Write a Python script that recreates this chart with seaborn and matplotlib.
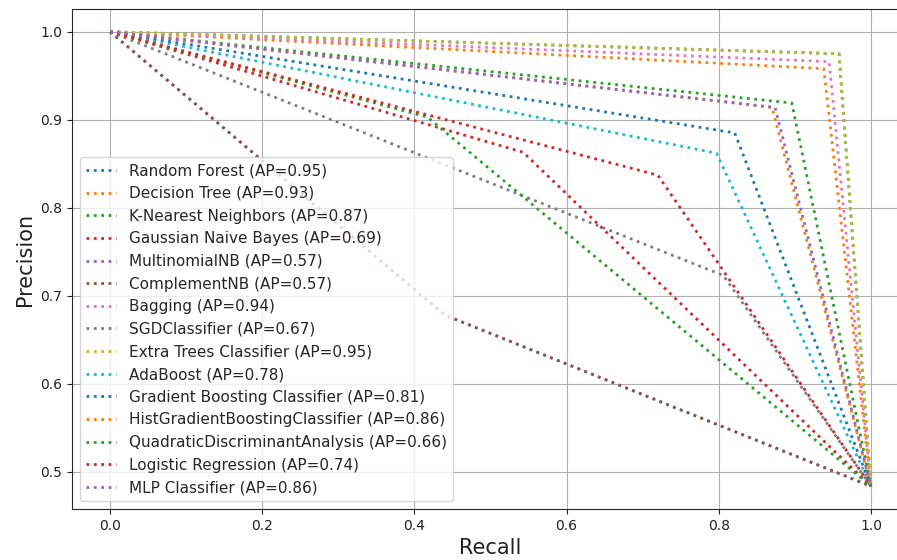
import matplotlib
matplotlib.use("Agg")
import matplotlib.pyplot as plt
import seaborn as sns
import pandas as pd

models = ["Random Forest", "Decision Tree", "K-Nearest Neighbors", "Gaussian Naive Bayes",
          "MultinomialNB", "ComplementNB", "Bagging", "SGDClassifier",
          "Extra Trees Classifier", "AdaBoost", "Gradient Boosting Classifier",
          "HistGradientBoostingClassifier", "QuadraticDiscriminantAnalysis",
          "Logistic Regression", "MLP Classifier"]
ap_scores = [0.95, 0.93, 0.87, 0.69, 0.57, 0.57, 0.94, 0.67, 0.95, 0.78, 0.81, 0.86, 0.66, 0.74, 0.86]
mid_recall = [0.958, 0.938, 0.896, 0.543, 0.440, 0.440, 0.945, 0.806, 0.958, 0.797, 0.821, 0.870, 0.417, 0.720, 0.874]
mid_precision = [0.975, 0.958, 0.919, 0.863, 0.678, 0.678, 0.966, 0.723, 0.975, 0.862, 0.885, 0.914, 0.903, 0.837, 0.914]
start_point = (0.0, 1.0)
end_point = (1.0, 0.4835)

sns.set_style("ticks")
plt.rcParams["font.family"] = ["DejaVu Sans"]

fig = plt.figure(figsize=(8.97, 5.6), dpi=100)
ax = fig.add_axes([72 / 897, 51 / 560, 837 / 897, 500 / 560])

palette = sns.color_palette("tab10", 10)
for i, name in enumerate(models):
    df = pd.DataFrame({
        "recall": [start_point[0], mid_recall[i], end_point[0]],
        "precision": [start_point[1], mid_precision[i], end_point[1]],
    })
    sns.lineplot(data=df, x="recall", y="precision", sort=False, estimator=None,
                 color=palette[i % 10], linestyle=":", linewidth=2,
                 label=f"{name} (AP={ap_scores[i]:.2f})", ax=ax)

ax.grid(True, color="#b0b0b0", linewidth=0.8)
ax.set_xlabel("Recall", fontsize=15, color="#222222")
ax.set_ylabel("Precision", fontsize=15, color="#222222")
ax.tick_params(labelsize=10, labelcolor="#222222")
ax.legend(loc="lower left", fontsize=11)

fig.savefig("out.png", dpi=100)
